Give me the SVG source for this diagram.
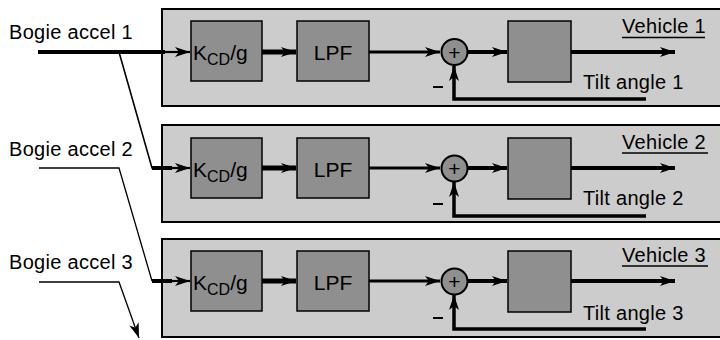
<svg xmlns="http://www.w3.org/2000/svg" width="720" height="340" viewBox="0 0 720 340">
<style>
.panel{fill:#cccccc;stroke:#000;stroke-width:2}
.blk{fill:#8f8f8f;stroke:#000;stroke-width:1.5}
.sum{fill:#8f8f8f;stroke:#000;stroke-width:2}
.t{font-family:"Liberation Sans",Arial,sans-serif;font-size:20px;letter-spacing:0.3px;fill:#000}
.k{font-family:"Liberation Sans",Arial,sans-serif;font-size:21px;fill:#000}
.sub{font-size:16px}
.pl{font-family:"Liberation Sans",Arial,sans-serif;font-size:21px;fill:#000}
.w{fill:none;stroke:#000;stroke-linecap:butt;stroke-linejoin:miter}
.m{stroke:#000;stroke-width:2}
</style>
<defs>
<marker id="ah" markerUnits="userSpaceOnUse" markerWidth="16" markerHeight="12" viewBox="0 0 16 12" refX="15" refY="6" orient="auto">
<path d="M0,1 L15,6 L0,11 L4,6 z" fill="#000"/>
</marker>
</defs>

<g id="panel1" transform="translate(0,9)">
<rect class="panel" x="162" y="0" width="559" height="97"/>
<rect class="blk" x="191" y="12" width="71" height="60"/>
<text class="k" x="193" y="51">K<tspan class="sub" dy="5">CD</tspan><tspan dy="-5">/g</tspan></text>
<rect class="blk" x="297" y="12" width="72" height="60"/>
<text class="k" x="333" y="51" text-anchor="middle">LPF</text>
<circle class="sum" cx="454.5" cy="43" r="13"/>
<text class="pl" x="454.5" y="50.5" text-anchor="middle">+</text>
<rect class="blk" x="508" y="12" width="63" height="61"/>
<text class="t" x="622" y="24">Vehicle 1</text>
<line x1="622" y1="28.5" x2="705" y2="28.5" stroke="#000" stroke-width="1.5"/>
<text class="t" x="583" y="80">Tilt angle 1</text>
<line class="m" x1="433" y1="78" x2="443" y2="78"/>
</g>

<g id="panel2" transform="translate(0,125)">
<rect class="panel" x="162" y="0" width="559" height="97"/>
<rect class="blk" x="191" y="13" width="71" height="60"/>
<text class="k" x="193" y="52">K<tspan class="sub" dy="5">CD</tspan><tspan dy="-5">/g</tspan></text>
<rect class="blk" x="297" y="13" width="72" height="60"/>
<text class="k" x="333" y="52" text-anchor="middle">LPF</text>
<circle class="sum" cx="454.5" cy="43.5" r="13"/>
<text class="pl" x="454.5" y="51" text-anchor="middle">+</text>
<rect class="blk" x="508" y="13" width="63" height="61"/>
<text class="t" x="622" y="24">Vehicle 2</text>
<line x1="622" y1="28" x2="708" y2="28" stroke="#000" stroke-width="1.5"/>
<text class="t" x="583" y="80">Tilt angle 2</text>
<line class="m" x1="433" y1="79" x2="443" y2="79"/>
</g>

<g id="panel3" transform="translate(0,239)">
<rect class="panel" x="162" y="0" width="559" height="98"/>
<rect class="blk" x="191" y="12" width="71" height="60"/>
<text class="k" x="193" y="51">K<tspan class="sub" dy="5">CD</tspan><tspan dy="-5">/g</tspan></text>
<rect class="blk" x="297" y="12" width="72" height="60"/>
<text class="k" x="333" y="51" text-anchor="middle">LPF</text>
<circle class="sum" cx="454.5" cy="42.5" r="13"/>
<text class="pl" x="454.5" y="50" text-anchor="middle">+</text>
<rect class="blk" x="508" y="12" width="63" height="61"/>
<text class="t" x="622" y="23">Vehicle 3</text>
<line x1="622" y1="27" x2="708" y2="27" stroke="#000" stroke-width="1.5"/>
<text class="t" x="583" y="81">Tilt angle 3</text>
<line class="m" x1="433" y1="79" x2="443" y2="79"/>
</g>

<g id="input-labels">
<text class="t" x="9" y="39">Bogie accel 1</text>
<text class="t" x="9" y="156">Bogie accel 2</text>
<text class="t" x="9" y="269">Bogie accel 3</text>
</g>

<g id="connectors" class="w">
<line x1="38" y1="52" x2="165" y2="52" stroke-width="4"/>
<line x1="162" y1="52" x2="190" y2="52" stroke-width="2.2" marker-end="url(#ah)"/>
<polyline points="119,52 152,168 170,168" stroke-width="1.6"/>
<line x1="152" y1="168" x2="172" y2="168" stroke-width="4"/>
<line x1="168" y1="168" x2="190" y2="168" stroke-width="2.2" marker-end="url(#ah)"/>
<polyline points="39,168 119,168 152,281" stroke-width="1.3"/>
<line x1="152" y1="281" x2="172" y2="281" stroke-width="4"/>
<line x1="168" y1="281" x2="190" y2="281" stroke-width="2.2" marker-end="url(#ah)"/>
<polyline points="39,282 119,282 139,338" stroke-width="1.3" marker-end="url(#ah)"/>

<line x1="262" y1="52" x2="296" y2="52" stroke-width="5" marker-end="url(#ah)"/>
<line x1="369" y1="52" x2="440" y2="52" stroke-width="3" marker-end="url(#ah)"/>
<line x1="468" y1="52" x2="507" y2="52" stroke-width="4" marker-end="url(#ah)"/>
<line x1="571" y1="52" x2="675" y2="52" stroke-width="4" marker-end="url(#ah)"/>
<polyline points="646,99 454,99 454,66" stroke-width="3.5" marker-end="url(#ah)"/>

<line x1="262" y1="168" x2="296" y2="168" stroke-width="5" marker-end="url(#ah)"/>
<line x1="369" y1="168" x2="440" y2="168" stroke-width="3" marker-end="url(#ah)"/>
<line x1="468" y1="168" x2="507" y2="168" stroke-width="4" marker-end="url(#ah)"/>
<line x1="571" y1="168" x2="675" y2="168" stroke-width="4" marker-end="url(#ah)"/>
<polyline points="646,216 454,216 454,182" stroke-width="3.5" marker-end="url(#ah)"/>

<line x1="262" y1="281" x2="296" y2="281" stroke-width="5" marker-end="url(#ah)"/>
<line x1="369" y1="281" x2="440" y2="281" stroke-width="3" marker-end="url(#ah)"/>
<line x1="468" y1="281" x2="507" y2="281" stroke-width="4" marker-end="url(#ah)"/>
<line x1="571" y1="281" x2="675" y2="281" stroke-width="4" marker-end="url(#ah)"/>
<polyline points="646,329 454,329 454,295" stroke-width="3.5" marker-end="url(#ah)"/>
</g>
</svg>
